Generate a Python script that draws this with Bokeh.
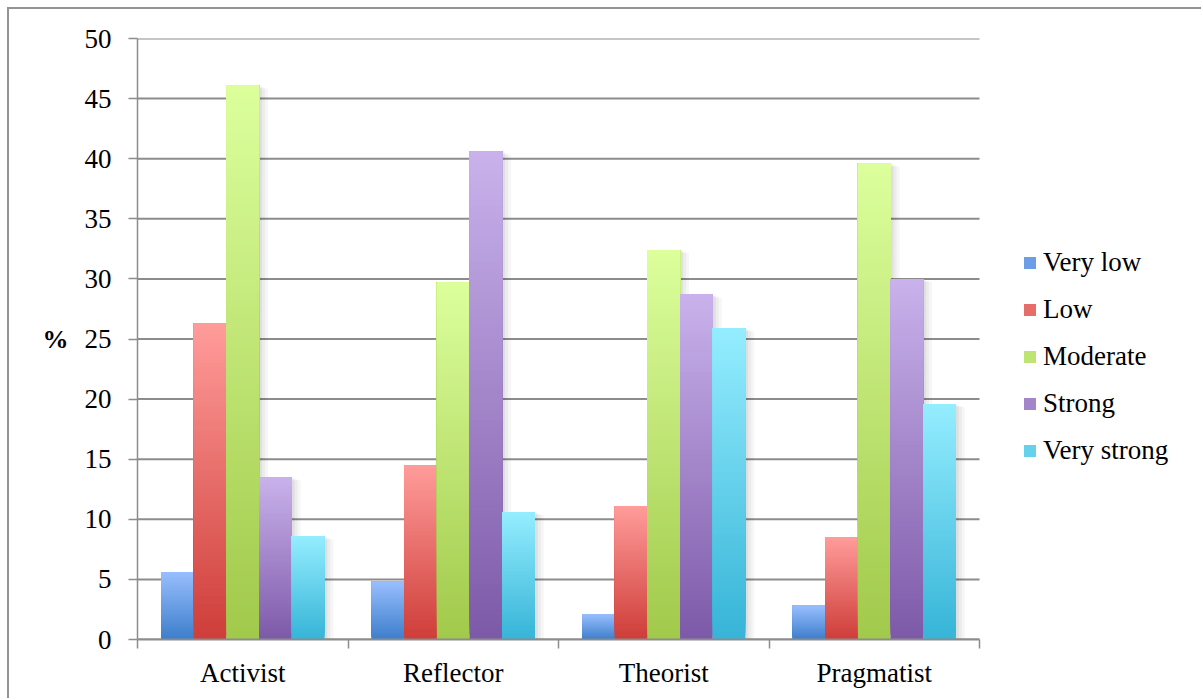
import numpy as np
from bokeh.plotting import figure
from bokeh.models import (Range1d, FixedTicker, Legend, LegendItem,
                          ColumnDataSource)
from bokeh.embed import file_html
from bokeh.resources import INLINE

# ---- data -------------------------------------------------------------
categories = ["Activist", "Reflector", "Theorist", "Pragmatist"]
series_names = ["Very low", "Low", "Moderate", "Strong", "Very strong"]
very_low = [5.6, 4.8, 2.1, 2.8]
low = [26.3, 14.5, 11.1, 8.5]
moderate = [46.1, 29.7, 32.4, 39.6]
strong = [13.5, 40.6, 28.7, 30.0]
very_strong = [8.6, 10.6, 25.9, 19.6]
y_ticks = [0, 5, 10, 15, 20, 25, 30, 35, 40, 45, 50]

series_values = [very_low, low, moderate, strong, very_strong]

# gradient end colours for each series (top of bar -> bottom of bar)
top_colors = ["#98BEFE", "#FF9C9A", "#DCFF9D", "#C9B2EC", "#95EDFF"]
bottom_colors = ["#3D7ECB", "#CE3D39", "#A1C94A", "#7D59A8", "#36B4D7"]

FONT = "Liberation Serif"
GRID = "#8c8c8c"
N_SLICES = 80
BAR_W = 0.155
GROUP_OFF = (1 - 5 * BAR_W) / 2
PAD = 9            # page offset of the canvas (margin + frame line)
CAT_PX = 210.5     # width of one category in pixels
LEFT = 137 - PAD
W = 1203 - PAD
H = 700 - PAD
N_CAT = len(categories)


def hex_to_rgb(h):
    h = h.lstrip("#")
    return np.array([int(h[i:i + 2], 16) for i in (0, 2, 4)], dtype=float)


def mix(c_bottom, c_top, t):
    c = hex_to_rgb(c_bottom) * (1 - t) + hex_to_rgb(c_top) * t
    return "#%02x%02x%02x" % tuple(int(round(v)) for v in c)


# the plot area extends to the right edge so that the legend can sit there;
# axis and grid lines stop at the last category
x_end = (W - LEFT) / CAT_PX
p = figure(width=W, height=H,
           x_range=Range1d(0, x_end), y_range=Range1d(0, 50),
           min_border_left=LEFT, min_border_right=0,
           min_border_top=38 - PAD, min_border_bottom=61,
           output_backend="svg", toolbar_location=None)
p.outline_line_color = None
p.background_fill_color = "white"
p.border_fill_color = "white"
# chart-area frame: thin grey line along the top and left edges
p.styles = {"margin-left": "7px", "margin-top": "7px",
            "border-left": "2px solid #939393",
            "border-top": "2px solid #939393"}

# horizontal grid lines over the category span
p.xgrid.grid_line_color = None
p.ygrid.grid_line_color = None
p.segment(x0=[0] * len(y_ticks), x1=[N_CAT] * len(y_ticks),
          y0=y_ticks, y1=y_ticks, line_color=GRID, line_width=2)

# soft drop shadows behind the bars
sh_x = 3.0 / CAT_PX
sh_y = 2.0 / 12.02
for j, vals in enumerate(series_values):
    lefts = [i + GROUP_OFF + j * BAR_W for i in range(N_CAT)]
    for k, a in ((1.0, 0.05), (2.0, 0.04), (3.0, 0.035)):
        p.quad(left=[l + k * sh_x for l in lefts],
               right=[l + BAR_W + k * sh_x for l in lefts],
               bottom=[-k * sh_y] * len(lefts),
               top=[v - k * sh_y * 0.5 for v in vals],
               fill_color="black", fill_alpha=a, line_color=None)

# gradient bars: each slice runs from its own bottom up to the bar's top,
# later (lighter) slices cover the earlier ones, so no seams appear
legend_items = []
for j, (name, vals) in enumerate(zip(series_names, series_values)):
    L, R, B, T, C = [], [], [], [], []
    for i, v in enumerate(vals):
        left = i + GROUP_OFF + j * BAR_W
        for k in range(N_SLICES):
            t = (k + 0.5) / N_SLICES
            L.append(left)
            R.append(left + BAR_W)
            B.append(v * k / N_SLICES)
            T.append(v)
            C.append(mix(bottom_colors[j], top_colors[j], t))
    src = ColumnDataSource(dict(left=L, right=R, bottom=B, top=T, color=C))
    r = p.quad(left="left", right="right", bottom="bottom", top="top",
               fill_color="color", line_color=None, source=src)
    legend_items.append(LegendItem(label=name, renderers=[r],
                                   index=N_SLICES // 2))

# y axis
p.yaxis.ticker = FixedTicker(ticks=y_ticks, minor_ticks=[])
p.yaxis.axis_line_color = GRID
p.yaxis.axis_line_width = 1.5
p.yaxis.major_tick_line_color = GRID
p.yaxis.major_tick_line_width = 1.5
p.yaxis.major_tick_in = 0
p.yaxis.major_tick_out = 9
p.yaxis.major_label_standoff = 17
p.yaxis.major_label_text_font = FONT
p.yaxis.major_label_text_font_size = "27px"
p.yaxis.major_label_text_color = "black"
p.yaxis.axis_label = "%"
p.yaxis.axis_label_orientation = "horizontal"
p.yaxis.axis_label_text_font = FONT
p.yaxis.axis_label_text_font_style = "bold"
p.yaxis.axis_label_text_font_size = "26px"
p.yaxis.axis_label_text_color = "black"
p.yaxis.axis_label_standoff = 13

# x axis: labels at category centres, ticks at category boundaries
centres = [i + 0.5 for i in range(N_CAT)]
p.xaxis.bounds = (0, N_CAT)
p.xaxis.ticker = FixedTicker(ticks=centres,
                             minor_ticks=list(range(N_CAT + 1)))
p.xaxis.major_label_overrides = {c: lab for c, lab in zip(centres, categories)}
p.xaxis.axis_line_color = GRID
p.xaxis.axis_line_width = 2
p.xaxis.major_tick_line_color = None
p.xaxis.minor_tick_line_color = GRID
p.xaxis.minor_tick_line_width = 1.5
p.xaxis.minor_tick_in = 0
p.xaxis.minor_tick_out = 9
p.xaxis.major_label_standoff = 9
p.xaxis.major_label_text_font = FONT
p.xaxis.major_label_text_font_size = "27px"
p.xaxis.major_label_text_color = "black"

# legend to the right of the bars
legend = Legend(items=legend_items, location=(885, 173),
                padding=0, margin=0, spacing=16,
                glyph_width=15, glyph_height=15, label_height=15,
                label_standoff=6,
                label_text_font=FONT, label_text_font_size="27px",
                label_text_color="black",
                border_line_color=None, background_fill_alpha=0)
p.add_layout(legend, "center")

open("out.html", "w").write(file_html(p, INLINE))
